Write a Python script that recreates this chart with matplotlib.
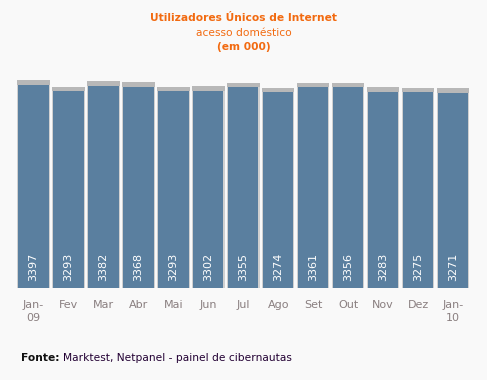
import matplotlib.pyplot as plt

months = ["Jan-\n09", "Fev", "Mar", "Abr", "Mai", "Jun", "Jul", "Ago",
          "Set", "Out", "Nov", "Dez", "Jan-\n10"]
users = [3397, 3293, 3382, 3368, 3293, 3302, 3355, 3274, 3361, 3356, 3283, 3275, 3271]

bg = '#f9f9f9'
bar_col = '#5a7f9f'

fig = plt.figure(figsize=(4.87, 3.8), dpi=100, facecolor=bg)
ax = fig.add_axes([16/487, 1-288/380, 454.5/487, 213/380], facecolor=bg)

x = range(len(users))
# shadow above each bar, then a light border, then the bar itself
ax.bar(x, [v + 75 for v in users], width=0.93, color='#b8b8b8', zorder=1)
ax.bar(x, users, width=0.93, color='#d0d0d0', zorder=2)
ax.bar(x, users, width=0.87, color=bar_col, zorder=3)

for i, v in enumerate(users):
    ax.text(i, 120, str(v), rotation=90, ha='center', va='bottom',
            color='white', fontsize=8, zorder=4)

ax.set_xlim(-0.5, len(users) - 0.5)
ax.set_ylim(0, 3564)
ax.set_xticks(list(x))
ax.set_xticklabels(months, color='#8a7f80', fontsize=8, linespacing=1.3)
ax.tick_params(axis='x', length=0, pad=9)
ax.set_yticks([])
for s in ax.spines.values():
    s.set_visible(False)

fig.text(0.5, 1-18/380, "Utilizadores Únicos de Internet", ha='center', va='center',
         color='#f26a10', fontsize=7.7, fontweight='bold')
fig.text(0.5, 1-33/380, "acesso doméstico", ha='center', va='center',
         color='#f26a10', fontsize=7.7)
fig.text(0.5, 1-47/380, "(em 000)", ha='center', va='center',
         color='#f26a10', fontsize=7.7, fontweight='bold')

fig.text(21/487, 1-358/380, "Fonte:", ha='left', va='center',
         color='#111111', fontsize=7.7, fontweight='bold')
fig.text(63/487, 1-358/380, "Marktest, Netpanel - painel de cibernautas", ha='left',
         va='center', color='#220033', fontsize=7.7)

fig.savefig('out.png', dpi=100, facecolor=bg)
